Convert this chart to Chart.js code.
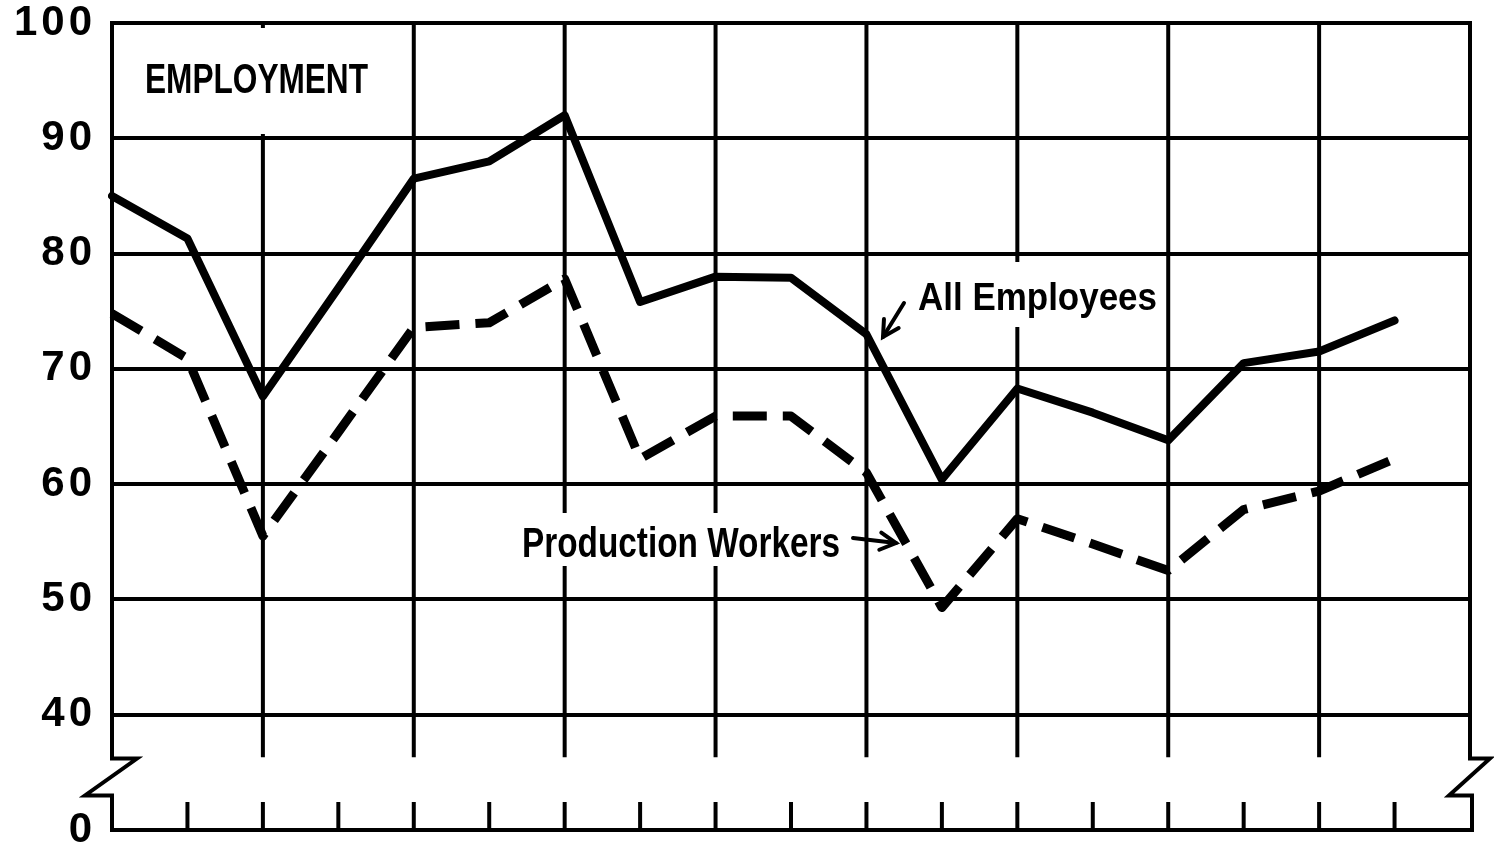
<!DOCTYPE html>
<html>
<head>
<meta charset="utf-8">
<script src="https://cdn.jsdelivr.net/npm/chart.js@4.4.1/dist/chart.umd.min.js"></script>
<style>
  html, body { margin: 0; padding: 0; background: #fff; }
  canvas { display: block; }
</style>
</head>
<body>
<canvas id="employmentChart" width="1494" height="849"></canvas>
<script>
// periods along the bottom axis (unlabelled in the original)
const periods = [0, 1, 2, 3, 4, 5, 6, 7, 8, 9, 10, 11, 12, 13, 14, 15, 16, 17, 18];
const allEmployees = [85, 81.3, 67.6, 77, 86.5, 88, 92, 75.8, 78, 77.9, 73, 60.4, 68.3, 66.2, 63.8, 70.5, 71.5, 74.2];
const productionWorkers = [74.8, 70.9, 55.5, 64.5, 73.6, 74, 77.8, 62.2, 65.9, 65.9, 61, 49.3, 57, 54.8, 52.5, 57.8, 59.4, 62.2];
const yTickValues = [30, 40, 50, 60, 70, 80, 90, 100];
const yTickLabels = ['0', '40', '50', '60', '70', '80', '90', '100'];

function strokePath(ctx, pts) {
    ctx.beginPath();
    ctx.moveTo(pts[0][0], pts[0][1]);
    for (let i = 1; i < pts.length; i++) ctx.lineTo(pts[i][0], pts[i][1]);
    ctx.stroke();
}

function drawFitted(ctx, text, left, baseline, size, width) {
    ctx.save();
    ctx.font = 'bold ' + size + 'px "Liberation Sans", Arial, sans-serif';
    const w = ctx.measureText(text).width;
    ctx.translate(left, baseline);
    ctx.scale(width / w, 1);
    ctx.fillStyle = '#000';
    ctx.fillText(text, 0, 0);
    ctx.restore();
}

function drawArrow(ctx, x1, y1, x2, y2) {
    const ang = Math.atan2(y2 - y1, x2 - x1);
    const len = 18;
    strokePath(ctx, [[x1, y1], [x2, y2]]);
    strokePath(ctx, [
        [x2 - len * Math.cos(ang - 0.5), y2 - len * Math.sin(ang - 0.5)],
        [x2, y2],
        [x2 - len * Math.cos(ang + 0.5), y2 - len * Math.sin(ang + 0.5)]
    ]);
}

const paperGrid = {
    id: 'paperGrid',
    beforeDraw(chart) {
        chart.ctx.letterSpacing = '4px';
    },
    beforeDatasetsDraw(chart) {
        const ctx = chart.ctx;
        const x = chart.scales.x;
        const y = chart.scales.y;
        const top = y.getPixelForValue(100) - 2;
        const bottom = y.getPixelForValue(30);
        const gridEnd = y.getPixelForValue(36.3);
        const breakTop = y.getPixelForValue(36.2);
        const breakBottom = y.getPixelForValue(33);
        const left = x.getPixelForValue(0);
        const right = x.getPixelForValue(periods.length - 1);

        ctx.save();
        ctx.strokeStyle = '#000';
        ctx.lineWidth = 4;
        ctx.lineJoin = 'miter';

        // vertical rulings on every second period
        for (let i = 2; i < periods.length - 1; i += 2) {
            const px = x.getPixelForValue(i);
            strokePath(ctx, [[px, top], [px, gridEnd]]);
        }
        // short ticks along the bottom
        for (let i = 1; i < periods.length - 1; i++) {
            const px = x.getPixelForValue(i);
            strokePath(ctx, [[px, bottom + 2], [px, bottom - 28]]);
        }
        // frame sides with scale breaks
        strokePath(ctx, [[left, top], [left, breakTop], [left + 25, breakTop],
            [left - 27, breakBottom], [left, breakBottom], [left, bottom + 2]]);
        strokePath(ctx, [[right, top], [right, breakTop], [right + 20, breakTop],
            [right - 21, breakBottom], [right + 2, breakBottom], [right + 2, bottom + 2]]);

        // paper cleared behind the labels
        ctx.fillStyle = '#fff';
        ctx.fillRect(125, 28, 275, 106);
        ctx.fillRect(905, 262, 255, 65);
        ctx.fillRect(512, 513, 338, 53);
        ctx.restore();
    },
    afterDatasetsDraw(chart) {
        const ctx = chart.ctx;
        ctx.save();
        ctx.letterSpacing = '0px';
        drawFitted(ctx, 'EMPLOYMENT', 145, 93, 42, 223);
        drawFitted(ctx, 'All Employees', 918, 310, 38, 239);
        drawFitted(ctx, 'Production Workers', 522, 557, 42, 318);
        ctx.strokeStyle = '#000';
        ctx.lineWidth = 4;
        ctx.lineCap = 'round';
        drawArrow(ctx, 904, 303, 883, 337);
        drawArrow(ctx, 853, 538, 896, 543);
        ctx.restore();
    }
};

new Chart(document.getElementById('employmentChart'), {
    type: 'line',
    data: {
        labels: periods,
        datasets: [{
            label: 'All Employees',
            data: allEmployees,
            borderColor: '#000',
            borderWidth: 8,
            pointRadius: 0,
            tension: 0,
            borderJoinStyle: 'round',
            borderCapStyle: 'round'
        }, {
            label: 'Production Workers',
            data: productionWorkers,
            borderColor: '#000',
            borderWidth: 9,
            borderDash: [34, 16],
            pointRadius: 0,
            tension: 0,
            borderJoinStyle: 'round'
        }]
    },
    options: {
        responsive: false,
        animation: false,
        layout: {
            padding: { top: 23, bottom: 19, right: 24, left: 0 }
        },
        plugins: {
            legend: { display: false },
            tooltip: { enabled: false }
        },
        scales: {
            x: {
                display: false
            },
            y: {
                min: 30,
                max: 100,
                afterFit: function(scale) {
                    scale.width = 112;
                    scale.paddingTop = 0;
                    scale.paddingBottom = 0;
                },
                afterBuildTicks: function(scale) {
                    scale.ticks = yTickValues.map(v => ({ value: v }));
                },
                border: { display: false },
                grid: {
                    color: '#000',
                    lineWidth: 4,
                    drawTicks: false
                },
                ticks: {
                    color: '#000',
                    padding: 16,
                    font: { family: '"Liberation Sans", Arial, sans-serif', size: 42, weight: 'bold' },
                    callback: function(value) {
                        return yTickLabels[yTickValues.indexOf(value)];
                    }
                }
            }
        }
    },
    plugins: [paperGrid]
});
</script>
</body>
</html>
